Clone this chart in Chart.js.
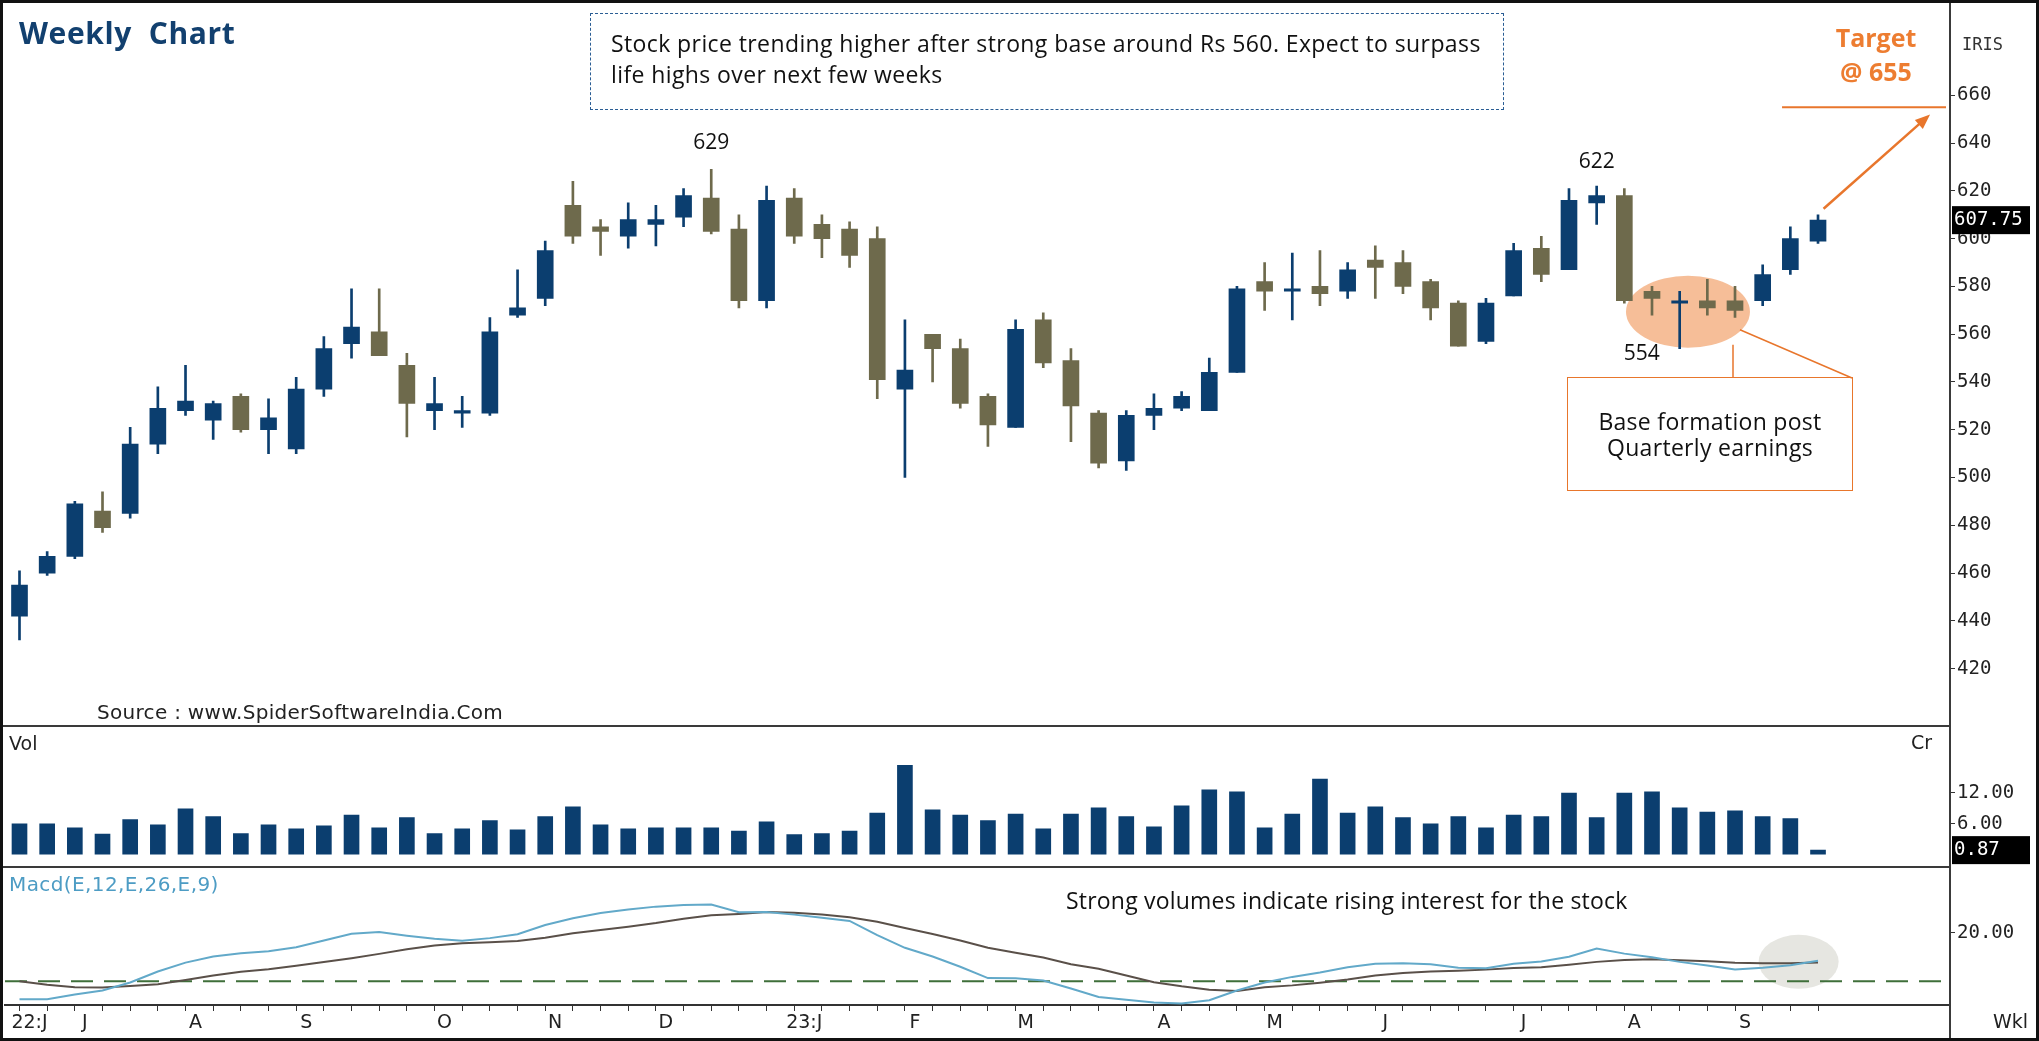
<!DOCTYPE html>
<html>
<head>
<meta charset="utf-8">
<title>Weekly Chart</title>
<script src="https://cdn.jsdelivr.net/npm/chart.js@4.4.1/dist/chart.umd.min.js"></script>
<style>
  html, body { margin: 0; padding: 0; background: #fff; }
  #page { position: relative; width: 2039px; height: 1041px; overflow: hidden; background: #fff; }
  #page canvas { position: absolute; left: 0; }
  .txt { position: absolute; white-space: nowrap; color: #111; }
  .frame { position: absolute; left: 0; top: 0; width: 2039px; height: 1041px; box-sizing: border-box; border: 3px solid #111; pointer-events: none; }
  .hline { position: absolute; left: 3px; width: 1947px; height: 2px; background: #3a3a3a; }
  .vline { position: absolute; left: 1949px; top: 0; width: 2px; height: 1041px; background: #3a3a3a; }
  .sys { font-family: 'DejaVu Sans', sans-serif; font-size: 19px; color: #222; line-height: 22px; }
  .mono { font-family: 'DejaVu Sans Mono', monospace; font-size: 17px; color: #333; line-height: 20px; }
  .note { font-family: 'Open Sans', Lato, sans-serif; }
</style>
</head>
<body>
<div id="page">
  <canvas id="priceChart" width="2039" height="726" style="top:0;width:2039px;height:726px"></canvas>
  <canvas id="volChart" width="2039" height="140" style="top:728px;width:2039px;height:140px"></canvas>
  <canvas id="macdChart" width="2039" height="172" style="top:869px;width:2039px;height:172px"></canvas>

  <div class="hline" style="top:725px"></div>
  <div class="hline" style="top:866px"></div>
  <div class="vline"></div>

  <div class="txt note" style="left:19px;top:14px;font-size:30px;line-height:38px;letter-spacing:0.6px;font-weight:700;color:#12406f;">Weekly&nbsp; Chart</div>

  <div class="txt note" style="left:590px;top:13px;width:914px;height:97px;box-sizing:border-box;border:1.5px dashed #2a5d94;padding:14px 0 0 20px;font-size:23px;line-height:31px;letter-spacing:0.4px;color:#111;">
    Stock price trending higher after strong base around Rs 560. Expect to surpass<br>life highs over next few weeks
  </div>

  <div class="txt note" style="left:1806px;top:20px;width:140px;text-align:center;font-size:25px;line-height:34px;font-weight:700;color:#ed7d31;">Target<br>@ 655</div>

  <div class="txt note" style="left:1567px;top:377px;width:286px;height:114px;box-sizing:border-box;border:1.5px solid #e8762c;padding-top:30px;text-align:center;font-size:23px;line-height:26px;letter-spacing:0.3px;color:#111;">Base formation post<br>Quarterly earnings</div>

  <div class="txt note" style="left:1066px;top:887px;font-size:23px;line-height:26px;letter-spacing:0.2px;color:#111;">Strong volumes indicate rising interest for the stock</div>

  <div class="txt sys" style="left:97px;top:701px;font-size:20px;letter-spacing:0.3px;">Source : www.SpiderSoftwareIndia.Com</div>
  <div class="txt sys" style="left:9px;top:732px;">Vol</div>
  <div class="txt sys" style="left:9px;top:873px;font-size:20px;letter-spacing:0.4px;color:#4d9cc4;">Macd(E,12,E,26,E,9)</div>
  <div class="txt mono" style="left:1962px;top:34px;">IRIS</div>
  <div class="txt sys" style="left:1911px;top:731px;">Cr</div>
  <div class="txt sys" style="left:1993px;top:1010px;">Wkl</div>

  <div class="frame"></div>
</div>

<script>
// weekly candles, Jun 2022 -> Sep 2023
const open  = [442,460,467,486,485,514,528,524,534,520,512,537,556,561,547,528,527,527,568,575,614,605,601,606,609,617,604,574,617,606,604,600,537,560,554,534,521,566,549,527,507,526,529,528,544,582,578,580,578,591,590,582,573,557,576,596,587,615,618,578,573,574,574,574,587,599];
const high  = [461,469,490,494,521,538,547,532,535,533,542,559,579,579,552,542,534,567,587,599,624,608,615,614,621,629,610,622,621,610,607,605,566,560,558,535,566,569,554,528,528,535,536,550,580,590,594,595,590,597,595,583,574,575,598,601,621,622,621,580,578,583,580,589,605,610];
const low   = [432,459,466,477,483,510,526,516,519,510,510,534,550,551,517,520,521,526,567,572,598,593,596,597,605,602,571,571,598,592,588,533,500,540,529,513,521,546,515,504,503,520,528,528,544,570,566,572,575,575,577,566,555,556,576,582,587,606,573,568,554,568,567,572,585,598];
const close = [455,467,489,479,514,529,532,531,520,525,537,554,563,551,531,531,528,561,571,595,601,603,608,608,618,603,574,616,601,600,593,541,545,554,531,522,562,548,530,506,526,529,534,544,579,578,579,577,587,588,580,571,555,573,595,585,616,618,574,575,574,571,570,585,600,607.75];

// volume in crores
const volume = [6.0,6.0,5.2,4.0,6.8,5.8,8.9,7.4,4.1,5.8,5.0,5.6,7.7,5.2,7.2,4.1,5.0,6.6,4.8,7.4,9.3,5.8,5.0,5.2,5.2,5.2,4.6,6.4,3.9,4.1,4.6,8.1,17.4,8.7,7.7,6.6,7.9,5.0,7.9,9.1,7.4,5.4,9.5,12.6,12.2,5.2,7.9,14.7,8.1,9.3,7.2,6.0,7.4,5.2,7.7,7.4,12.0,7.2,12.0,12.2,9.1,8.3,8.5,7.4,7.0,0.87];

// MACD(12,26,9)
const macdLine   = [-7.4,-7.4,-5.5,-3.8,-0.5,4.0,7.7,10.2,11.6,12.4,14.0,16.8,19.6,20.3,18.8,17.5,16.7,17.8,19.4,23.2,26.0,28.2,29.6,30.8,31.5,31.7,28.5,28.6,27.5,26.2,24.9,19.0,13.8,10.2,6.0,1.3,1.2,0.3,-3.0,-6.5,-7.6,-8.8,-9.2,-7.8,-3.8,-0.5,1.8,3.6,5.8,7.2,7.4,7.0,5.6,5.4,7.2,8.2,10.1,13.5,11.4,9.9,8.0,6.5,4.9,5.6,6.6,8.5];
const signalLine = [0,-1.4,-2.5,-2.6,-2.0,-1.2,0.5,2.4,3.9,5.0,6.4,7.9,9.5,11.3,13.2,14.8,15.7,16.1,16.6,18.0,19.8,21.2,22.5,24.0,25.8,27.2,27.8,28.6,28.3,27.6,26.4,24.6,22.0,19.5,16.8,13.8,11.8,9.8,7.0,5.2,2.4,-0.4,-2.1,-3.5,-4.0,-2.5,-1.7,-0.6,0.7,2.4,3.4,4.0,4.3,4.8,5.5,5.8,6.8,8.0,8.8,9.1,8.7,8.3,7.6,7.4,7.4,7.7];

// x axis month labels and the week they start on
const monthTicks    = ['22:J','J','A','S','O','N','D','23:J','F','M','A','M','J','J','A','S'];
const monthTickWeek = [0,2,6,10,15,19,23,28,32,36,41,45,49,54,58,62];

const priceTicks = [420,440,460,480,500,520,540,560,580,600,620,640,660];
const volTicks = [6,12];
const macdTicks = [20];

const TARGET = 655;
const BASE_FROM = 58, BASE_TO = 62;   // base formation weeks

const weeks = close.map((_, i) => i);
const last = weeks.length - 1;
const X_MIN = -0.524, X_MAX = 69.77;
const BLUE = '#0b3e6f', BROWN = '#6e6a4c', ORANGE = '#e8762c';

const candleColors = weeks.map(i => close[i] >= open[i] ? BLUE : BROWN);

const monoFont = { family: 'DejaVu Sans Mono', size: 19 };
const sysFont = { family: 'DejaVu Sans', size: 19 };

function rightAxis(min, max, ticks, fmt) {
    return {
        position: 'right', min: min, max: max,
        afterFit: s => { s.width = 89; },
        afterBuildTicks: s => { s.ticks = ticks.map(v => ({ value: v })); },
        grid: { drawOnChartArea: false, tickLength: 5, color: '#333' },
        border: { display: false },
        ticks: { padding: 2, color: '#222', font: monoFont, callback: fmt }
    };
}

function valueBox(ctx, area, y, text, canvasH) {
    let top = y - 14;
    if (top + 28 > canvasH) top = canvasH - 28;
    ctx.save();
    ctx.fillStyle = '#000';
    ctx.fillRect(area.right + 2, top, 78, 28);
    ctx.fillStyle = '#fff';
    ctx.font = "19px 'DejaVu Sans Mono'";
    ctx.textBaseline = 'middle';
    ctx.fillText(text, area.right + 4, top + 14);
    ctx.restore();
}

const priceDecor = {
    id: 'priceDecor',
    beforeDatasetsDraw(chart) {
        const { ctx, scales: { x, y } } = chart;
        let mid = 0;
        for (let i = BASE_FROM; i <= BASE_TO; i++) mid += (low[i] + close[i]) / 2;
        mid /= (BASE_TO - BASE_FROM + 1);
        const cx = x.getPixelForValue((BASE_FROM + BASE_TO) / 2 + 0.3);
        const cy = y.getPixelForValue(mid);
        ctx.save();
        ctx.fillStyle = 'rgba(237,125,49,0.5)';
        ctx.beginPath();
        ctx.ellipse(cx, cy, 62, 36, 0, 0, Math.PI * 2);
        ctx.fill();
        // connectors to the note box
        ctx.strokeStyle = ORANGE;
        ctx.lineWidth = 1.5;
        ctx.beginPath();
        ctx.moveTo(1733, cy + 33); ctx.lineTo(1733, 377);
        ctx.moveTo(cx + 52, cy + 18); ctx.lineTo(1852, 378);
        ctx.stroke();
        ctx.restore();
    },
    afterDatasetsDraw(chart) {
        const { ctx, chartArea, scales: { x, y } } = chart;
        ctx.save();
        // target line
        const ty = y.getPixelForValue(TARGET);
        ctx.strokeStyle = ORANGE;
        ctx.lineWidth = 2;
        ctx.beginPath();
        ctx.moveTo(x.getPixelForValue(last - 1.3), ty);
        ctx.lineTo(chartArea.right - 4, ty);
        ctx.stroke();
        // arrow
        const x1 = x.getPixelForValue(last + 0.2), y1 = y.getPixelForValue(high[last] + 2.5);
        const x2 = x.getPixelForValue(last + 4.05), y2 = y.getPixelForValue(TARGET - 3);
        const ang = Math.atan2(y2 - y1, x2 - x1);
        ctx.lineWidth = 2.5;
        ctx.beginPath();
        ctx.moveTo(x1, y1);
        ctx.lineTo(x2 - 12 * Math.cos(ang), y2 - 12 * Math.sin(ang));
        ctx.stroke();
        ctx.fillStyle = ORANGE;
        ctx.beginPath();
        ctx.moveTo(x2, y2);
        ctx.lineTo(x2 - 15 * Math.cos(ang) + 6 * Math.sin(ang), y2 - 15 * Math.sin(ang) - 6 * Math.cos(ang));
        ctx.lineTo(x2 - 15 * Math.cos(ang) - 6 * Math.sin(ang), y2 - 15 * Math.sin(ang) + 6 * Math.cos(ang));
        ctx.closePath();
        ctx.fill();
        ctx.restore();
        valueBox(ctx, chartArea, y.getPixelForValue(close[last]), close[last].toFixed(2), chart.height);
    }
};

const volDecor = {
    id: 'volDecor',
    afterDatasetsDraw(chart) {
        const { ctx, chartArea, scales: { y } } = chart;
        valueBox(ctx, chartArea, y.getPixelForValue(volume[last]), volume[last].toFixed(2), chart.height);
    }
};

const macdDecor = {
    id: 'macdDecor',
    beforeDatasetsDraw(chart) {
        const { ctx, chartArea, scales: { x, y } } = chart;
        ctx.save();
        ctx.fillStyle = 'rgba(205,205,195,0.5)';
        ctx.beginPath();
        ctx.ellipse(x.getPixelForValue(last - 0.7), y.getPixelForValue(macdLine[last] - 0.5), 40, 27, 0, 0, Math.PI * 2);
        ctx.fill();
        const zy = y.getPixelForValue(0);
        ctx.strokeStyle = '#3f6f3a';
        ctx.lineWidth = 2;
        ctx.setLineDash([22, 11]);
        ctx.beginPath();
        ctx.moveTo(chartArea.left, zy);
        ctx.lineTo(chartArea.right, zy);
        ctx.stroke();
        ctx.restore();
    }
};

const commonX = { type: 'linear', min: X_MIN, max: X_MAX, offset: false, display: false, grid: { offset: false } };

const priceChart = new Chart(document.getElementById('priceChart'), {
    type: 'bar',
    data: {
        datasets: [
            { label: 'Body', data: weeks.map(i => ({ x: i, y: [open[i], close[i]] })), backgroundColor: candleColors,
              barThickness: 16, minBarLength: 2, grouped: false, order: 1 },
            { label: 'Wick', data: weeks.map(i => ({ x: i, y: [low[i], high[i]] })), backgroundColor: candleColors,
              barThickness: 2, grouped: false, order: 2 }
        ]
    },
    options: {
        responsive: false, animation: false,
        layout: { padding: { left: 5, top: 8, bottom: 2, right: 0 } },
        plugins: { legend: { display: false }, tooltip: { enabled: false } },
        scales: {
            x: commonX,
            y: rightAxis(401.6, 694.3, priceTicks, v => v)
        }
    },
    plugins: [priceDecor]
});

new Chart(document.getElementById('volChart'), {
    type: 'bar',
    data: {
        datasets: [{ label: 'Vol', data: weeks.map(i => ({ x: i, y: volume[i] })), backgroundColor: BLUE, barThickness: 15 }]
    },
    options: {
        responsive: false, animation: false,
        layout: { padding: { left: 5, top: 2, bottom: 2, right: 0 } },
        plugins: { legend: { display: false }, tooltip: { enabled: false } },
        scales: {
            x: commonX,
            y: rightAxis(0, 22.04, volTicks, v => v.toFixed(2))
        }
    },
    plugins: [volDecor]
});

new Chart(document.getElementById('macdChart'), {
    type: 'line',
    data: {
        datasets: [
            { label: 'MACD', data: weeks.map(i => ({ x: i, y: macdLine[i] })), borderColor: '#62a9c9', borderWidth: 2, pointRadius: 0, tension: 0 },
            { label: 'Signal', data: weeks.map(i => ({ x: i, y: signalLine[i] })), borderColor: '#5a5049', borderWidth: 2, pointRadius: 0, tension: 0 }
        ]
    },
    options: {
        responsive: false, animation: false,
        layout: { padding: { left: 5, top: 2, bottom: 0, right: 0 } },
        plugins: { legend: { display: false }, tooltip: { enabled: false } },
        scales: {
            x: {
                type: 'linear', min: X_MIN, max: X_MAX, offset: false,
                afterFit: s => { s.height = 36; },
                afterBuildTicks: s => { s.ticks = weeks.map(v => ({ value: v })); },
                grid: { drawOnChartArea: false, tickLength: 6, color: '#333', offset: false },
                border: { display: true, color: '#333', width: 2 },
                ticks: {
                    autoSkip: false, maxRotation: 0, labelOffset: 10, padding: 1, color: '#222', font: sysFont,
                    callback: v => { const k = monthTickWeek.indexOf(v); return k >= 0 ? monthTicks[k] : ''; }
                }
            },
            y: rightAxis(-9.8, 40.8, macdTicks, v => v.toFixed(2))
        }
    },
    plugins: [macdDecor]
});

// swing labels from the data
function swingLabel(text, px, py) {
    const el = document.createElement('div');
    el.className = 'txt note';
    el.textContent = text;
    el.style.cssText += 'width:70px;text-align:center;font-size:21px;line-height:26px;color:#111;left:' + (px - 35) + 'px;top:' + py + 'px;';
    document.getElementById('page').appendChild(el);
}
const sx = priceChart.scales.x, sy = priceChart.scales.y;
const hiAll = high.indexOf(Math.max(...high));
swingLabel(String(high[hiAll]), sx.getPixelForValue(hiAll), sy.getPixelForValue(high[hiAll]) - 41);
const recent = high.slice(50);
const hiRecent = 50 + recent.indexOf(Math.max(...recent));
swingLabel(String(high[hiRecent]), sx.getPixelForValue(hiRecent), sy.getPixelForValue(high[hiRecent]) - 39);
const baseLows = low.slice(BASE_FROM, BASE_TO + 1);
const loBase = BASE_FROM + baseLows.indexOf(Math.min(...baseLows));
swingLabel(String(low[loBase]), sx.getPixelForValue(loBase) - 38, sy.getPixelForValue(low[loBase]) - 10);
</script>
</body>
</html>
